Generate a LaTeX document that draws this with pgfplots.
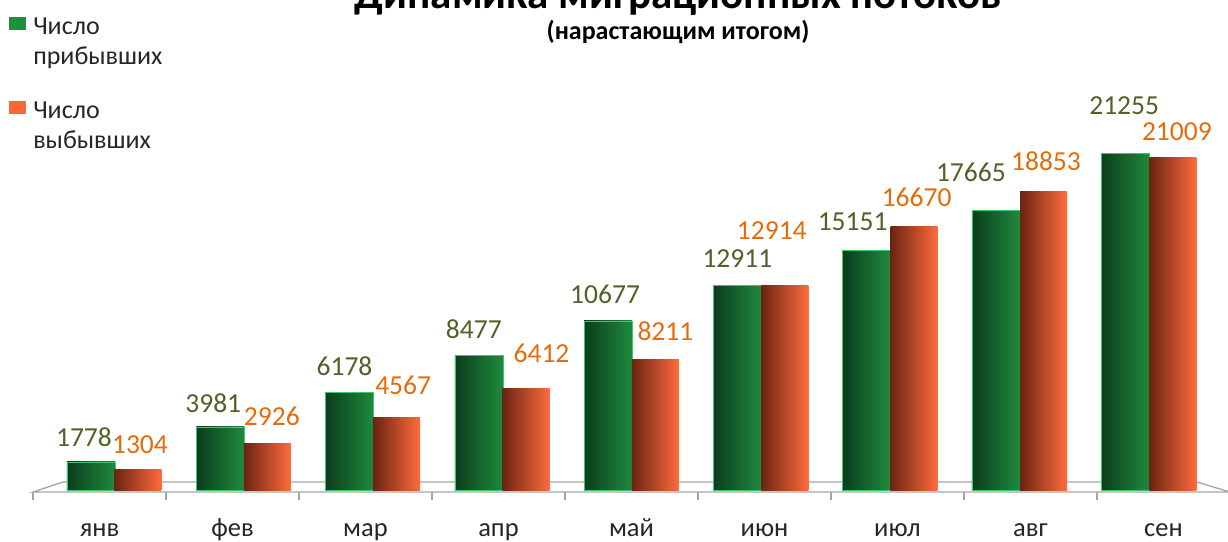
\documentclass[border=0pt]{standalone}
\usepackage{fontspec}
\setmainfont{Carlito}
\usepackage{pgfplots}
\usepackage{pgfplotstable}
\pgfplotsset{compat=1.18}

\definecolor{gDark}{HTML}{0B3D1C}
\definecolor{gMid}{HTML}{2EA04F}
\definecolor{gRight}{HTML}{1F8A3E}
\definecolor{gEdge}{HTML}{3CC76A}
\definecolor{oDark}{HTML}{6B2412}
\definecolor{oMid}{HTML}{E85A30}
\definecolor{oRight}{HTML}{FF6B3D}
\definecolor{labG}{HTML}{4F6228}
\definecolor{labO}{HTML}{E46C0A}
\definecolor{legG}{HTML}{1F8F3F}
\definecolor{legO}{HTML}{FF6633}
\definecolor{floorC}{HTML}{A6A6A6}

\pgfplotstableread{
i g o gdx gdy odx ody
0 1778 1304 -7 25 2 25
1 3981 2926 -7 24 4.5 27
2 6178 4567 -5 26 6.5 32
3 8477 6412 -5 27 15.5 35
4 10677 8211 -3 26.5 10 28.5
5 12911 12914 0 27 -13 55
6 15151 16670 -14 28 2.5 29
7 17665 18853 -25 38 2.5 30
8 21255 21009 -1 47.5 4 25.5
}\data

\pgfplotsset{
  greenbar/.style={ybar, bar width=48pt, bar shift=0pt, draw=gEdge, line width=0.6pt,
    left color=gDark, middle color=gMid, right color=gRight,
    nodes near coords, point meta=explicit symbolic,
    visualization depends on={\thisrow{gdx} \as \gdx},
    visualization depends on={\thisrow{gdy} \as \gdy},
    nodes near coords style={anchor=center, xshift=\gdx pt, yshift=\gdy pt, text=labG, font=\fontsize{27.5}{30}\selectfont}},
  orangebar/.style={ybar, bar width=47pt, bar shift=0pt, draw=none,
    left color=oDark, middle color=oMid, right color=oRight,
    nodes near coords, point meta=explicit symbolic,
    visualization depends on={\thisrow{odx} \as \odx},
    visualization depends on={\thisrow{ody} \as \ody},
    nodes near coords style={anchor=center, xshift=\odx pt, yshift=\ody pt, text=labO, font=\fontsize{27.5}{30}\selectfont}},
}

\begin{document}
\begin{tikzpicture}[x=1pt,y=1pt]
\begin{axis}[
  at={(33pt,51pt)}, anchor=south west,
  scale only axis, width=1197pt, height=380pt,
  xmin=-0.5, xmax=8.5, ymin=0, ymax=24000,
  clip=false,
  axis line style={draw=none},
  tick style={draw=none},
  ytick=\empty,
  xtick={0,...,8},
  xticklabels={янв,фев,мар,апр,май,июн,июл,авг,сен},
  xticklabel style={anchor=base, yshift=-46pt, font=\fontsize{26.5}{30}\selectfont, text=black!85},
  legend style={at={(axis description cs:-0.02,1.245)}, anchor=north west,
    draw=none, fill=none, inner sep=0pt, row sep=35pt,
    font=\fontsize{26}{30}\selectfont,
    nodes={align=left, inner sep=0pt, text=black!85}},
  legend cell align=left,
]
% floor
\draw[floorC, line width=1.3pt] ([yshift=-2pt]axis cs:-0.5,0) -- ([yshift=8pt]axis cs:-0.274,0) -- ([yshift=8pt]axis cs:8.25,0) -- ([yshift=-2pt]axis cs:8.5,0) -- cycle;
\pgfplotsinvokeforeach{-0.5,0.5,1.5,2.5,3.5,4.5,5.5,6.5,7.5,8.5}{
  \draw[floorC, line width=1.3pt] ([yshift=-2pt]axis cs:#1,0) -- ([yshift=-10pt]axis cs:#1,0);
}
\pgfplotsinvokeforeach{0,1,2,3,4,5,6,7,8}{
  \addplot[greenbar, forget plot, restrict expr to domain={\coordindex}{#1:#1}]
    table[x expr=\thisrow{i}-0.064-0.028*\thisrow{i}, y=g, meta=g] {\data};
  \addplot[orangebar, forget plot, restrict expr to domain={\coordindex}{#1:#1}]
    table[x expr=\thisrow{i}+0.289-0.0273*\thisrow{i}, y=o, meta=o] {\data};
}
\addlegendimage{draw=none, legend image code/.code={\path[draw=none, fill=none] (0pt,12pt) -- (24pt,12pt); \fill[legG, draw=none] (0pt,12pt) rectangle (17pt,25pt);}}
\addlegendentry{Число\\прибывших}
\addlegendimage{draw=none, legend image code/.code={\path[draw=none, fill=none] (0pt,12pt) -- (24pt,12pt); \fill[legO, draw=none] (0pt,12pt) rectangle (17pt,25pt);}}
\addlegendentry{Число\\выбывших}
\end{axis}
\node[anchor=base, font=\bfseries\fontsize{43}{46}\selectfont] at (678,532) {Динамика миграционных потоков};
\node[anchor=base, font=\bfseries\fontsize{26}{30}\selectfont] at (678,501) {(нарастающим итогом)};
\pgfresetboundingbox
\path[use as bounding box] (0,0) rectangle (1228,541);
\end{tikzpicture}
\end{document}
